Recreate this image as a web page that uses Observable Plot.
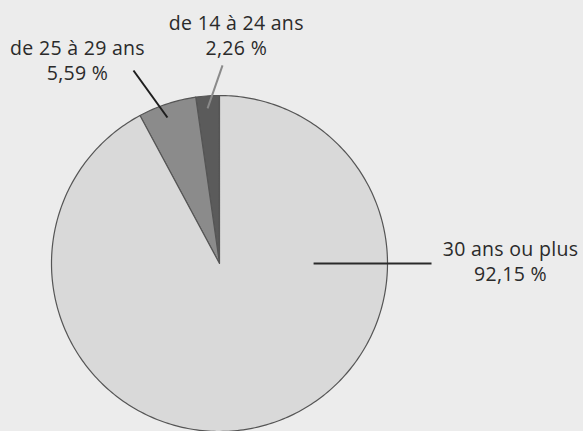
<!DOCTYPE html>
<html>
<head>
<meta charset="utf-8">
<script src="https://cdn.jsdelivr.net/npm/d3@7"></script>
<script src="https://cdn.jsdelivr.net/npm/@observablehq/plot@0.6"></script>
<style>
  html, body { margin: 0; padding: 0; background: #ececec; }
  #chart { width: 583px; height: 431px; }
  #chart svg text { letter-spacing: 0.3px; }
</style>
</head>
<body>
<div id="chart"></div>
<script>
// ---- data ----
const categories = ["de 14 à 24 ans", "de 25 à 29 ans", "30 ans ou plus"];
const values = [2.26, 5.59, 92.15];
const valueLabels = ["2,26 %", "5,59 %", "92,15 %"];

// ---- styles / layout (not data) ----
const fills = ["#5b5b5b", "#8b8b8b", "#d9d9d9"];
const leaderColors = ["#8a8a8a", "#1e1e1e", "#2a2a2a"];
// leader line endpoints & label centres, in units of the pie radius relative to centre
const layout = [
  {x1: -0.071, y1: 0.923, x2: 0.018, y2: 1.179, tx: 0.10, ty: 1.365},
  {x1: -0.310, y1: 0.869, x2: -0.512, y2: 1.149, tx: -0.845, ty: 1.215},
  {x1: 0.560, y1: 0.0, x2: 1.262, y2: 0.0, tx: 1.732, ty: 0.018}
];

const W = 583, H = 431, R = 168, CX = 219, CY = 263;

// pie slices: start at top, go counter-clockwise
const total = d3.sum(values);
const slices = [];
let acc = 0;
categories.forEach((c, i) => {
  const a0 = acc / total * 2 * Math.PI;
  acc += values[i];
  const a1 = acc / total * 2 * Math.PI;
  const n = Math.max(2, Math.ceil((a1 - a0) / (Math.PI / 180)));
  slices.push({cat: c, x: 0, y: 0});
  for (let k = 0; k <= n; k++) {
    const a = a0 + (a1 - a0) * k / n;
    slices.push({cat: c, x: -Math.sin(a), y: Math.cos(a)});
  }
});

const labels = categories.map((c, i) => ({
  cat: c,
  text: c + "\n" + valueLabels[i],
  ...layout[i],
  color: leaderColors[i]
}));

const chart = Plot.plot({
  width: W,
  height: H,
  margin: 0,
  style: {background: "transparent", fontFamily: "'Open Sans', Lato, sans-serif"},
  x: {domain: [-CX / R, (W - CX) / R], axis: null},
  y: {domain: [-(H - CY) / R, CY / R], axis: null},
  color: {domain: categories, range: fills},
  marks: [
    Plot.line(slices, {x: "x", y: "y", z: "cat", fill: "cat", stroke: "#555555", strokeWidth: 1.2, curve: "linear-closed"}),
    Plot.link(labels, {x1: "x1", y1: "y1", x2: "x2", y2: "y2", stroke: d => d.color, strokeWidth: 2}),
    Plot.text(labels, {x: "tx", y: "ty", text: "text", fontSize: 19.5, fill: "#2a2a2a", textAnchor: "middle", lineAnchor: "middle", lineHeight: 1.3})
  ]
});
document.getElementById("chart").appendChild(chart);
</script>
</body>
</html>
